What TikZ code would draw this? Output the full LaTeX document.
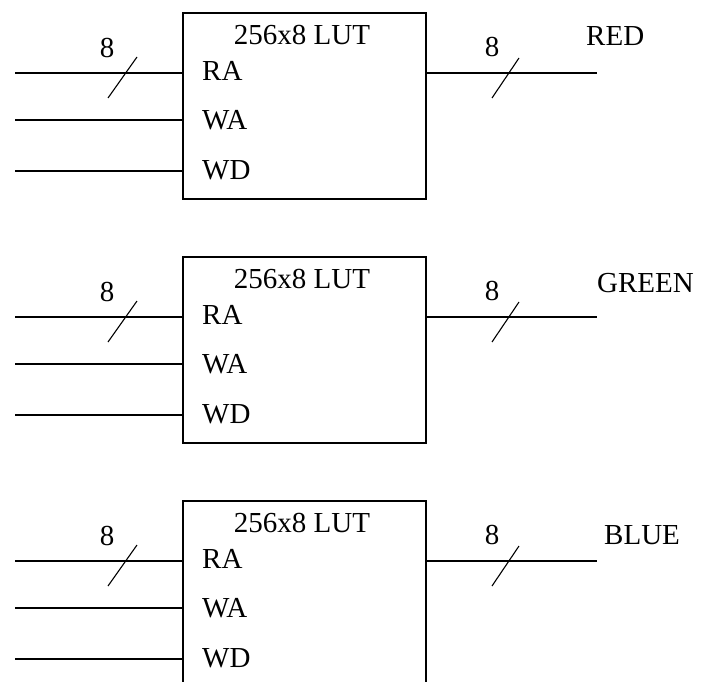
\documentclass[tikz,border=0pt]{standalone}
\usepackage{fontspec}
\setmainfont{Liberation Serif}
\usetikzlibrary{calc,positioning}

\tikzset{
  lutbox/.style={draw,line width=1.3pt,minimum width=243pt,minimum height=186pt,inner sep=0pt},
  txt/.style={inner sep=0pt,font=\fontsize{29}{31}\selectfont},
  pinlabel/.style={txt,anchor=west},
  wire/.style={line width=1.3pt},
  busmark/.style={line width=1.1pt}
}

\begin{document}
\begin{tikzpicture}[x=1pt,y=-1pt]
  \fill[white] (0,0) rectangle (701,682);
  \useasboundingbox (0,0) rectangle (701,682);
  % one LUT per colour channel
  \foreach \i/\dy/\col/\cx/\cy in {1/0/RED/586/36,2/244/GREEN/597/39,3/488/BLUE/604/47} {
    \node[lutbox] (lut\i) at (304.5,106+\dy) {};
    \node[txt] (title\i) at (302,35+\dy) {256x8 LUT};
    \node[pinlabel] (ra\i) at (202,71+\dy) {RA};
    \node[pinlabel] (wa\i) at (202,120+\dy) {WA};
    \node[pinlabel] (wd\i) at (202,170+\dy) {WD};
    % inputs
    \coordinate (rain\i) at (15,73+\dy);
    \coordinate (wain\i) at (15,120+\dy);
    \coordinate (wdin\i) at (15,171+\dy);
    \draw[wire] (rain\i) -- (rain\i -| lut\i.west);
    \draw[wire] (wain\i) -- (wain\i -| lut\i.west);
    \draw[wire] (wdin\i) -- (wdin\i -| lut\i.west);
    \draw[busmark] ($(rain\i)+(93,25)$) -- ++(29,-41);
    \node[txt] (inw\i) at (107,48+\dy) {8};
    % output
    \coordinate (out\i) at (597,73+\dy);
    \draw[wire] (lut\i.east |- out\i) -- (out\i);
    \draw[busmark] (492,98+\dy) -- ++(27,-40);
    \node[txt] (outw\i) at (492,47+\dy) {8};
    \node[txt,anchor=west] (name\i) at (\cx,\cy+\dy) {\col};
  }
\end{tikzpicture}
\end{document}
